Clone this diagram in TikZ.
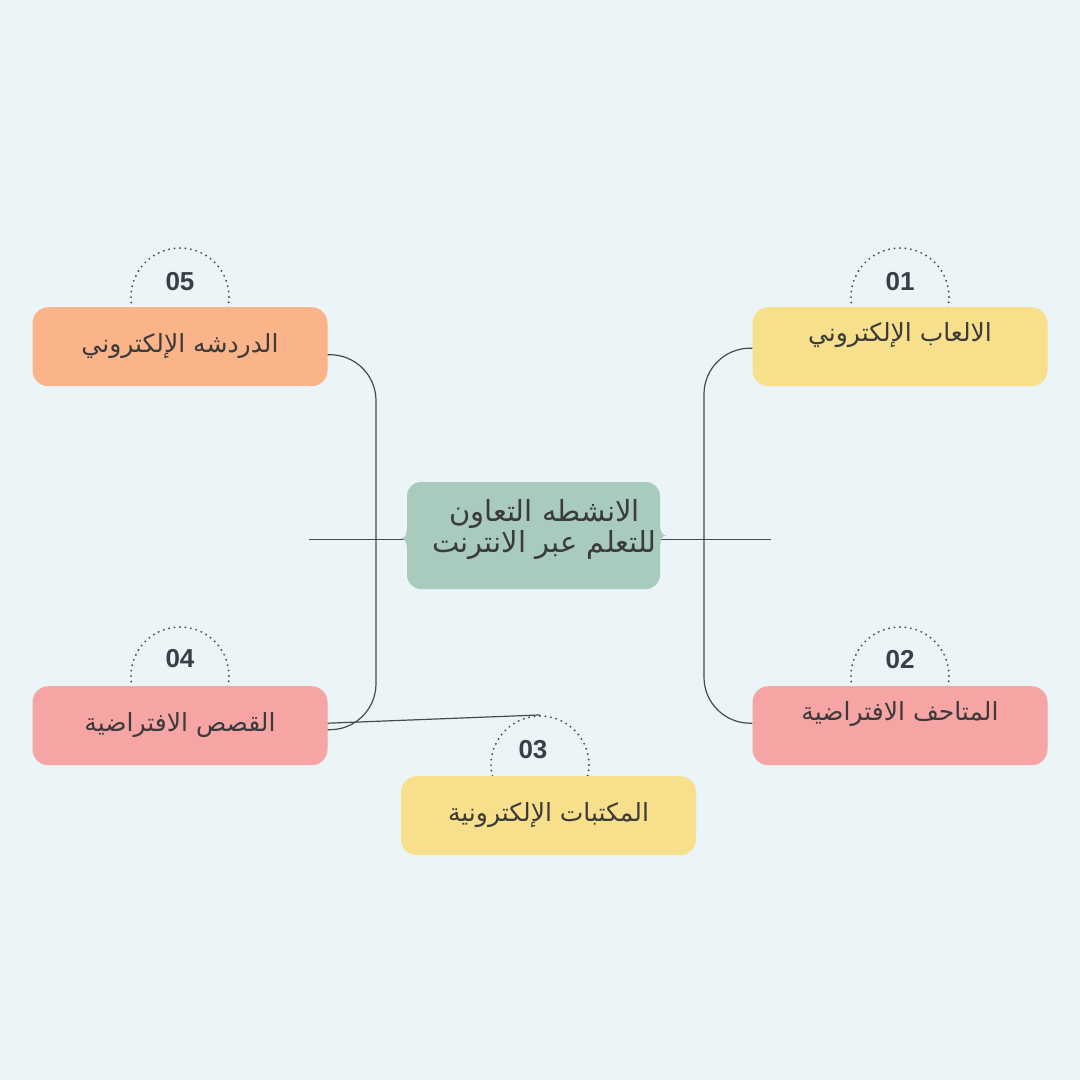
\documentclass[tikz,border=0pt]{standalone}
\usepackage{fontspec}
\setmainfont{DejaVu Sans}
\newfontfamily\arabicfont[Script=Arabic]{DejaVu Sans}
\newfontfamily\numfont{Liberation Sans}
\TeXXeTstate=1
\usepackage{tikz}
\usetikzlibrary{positioning}
\usepackage{color}
\definecolor{Mind-bg}{RGB}{235,244,246}
\definecolor{Mind-1}{RGB}{251,180,138}
\definecolor{Mind-2}{RGB}{247,223,140}
\definecolor{Mind-3}{RGB}{247,164,164}
\definecolor{Mind-4}{RGB}{168,203,189}
\definecolor{Mind-ln}{RGB}{74,74,74}
\definecolor{Mind-txt}{RGB}{59,59,59}
\definecolor{Mind-num}{RGB}{58,63,69}

\begin{document}
\begin{tikzpicture}[x=1pt,y=-1pt]
    \tikzset{ box/.style  ={rounded corners=16pt, minimum width=295pt, minimum height=79pt, text=Mind-txt, font=\arabicfont\fontsize{25}{30}\selectfont, text height=20pt, text depth=8pt} }
    \tikzset{ hibox/.style={box, text depth=30pt} }
    \tikzset{ ctr/.style  ={fill=Mind-4, rounded corners=14pt, minimum width=253pt, minimum height=107pt} }
    \tikzset{ ctrtxt/.style={text=Mind-txt, align=center, font=\arabicfont\fontsize{29}{31}\selectfont, xshift=11pt, yshift=6pt} }
    \tikzset{ ring/.style ={draw=Mind-ln, circle, minimum size=98pt, line width=2.1pt, dash pattern=on 0pt off 5.5pt, line cap=round} }
    \tikzset{ num/.style  ={text=Mind-num, font=\numfont\bfseries\fontsize{26}{28}\selectfont} }
    \tikzset{ lnk/.style  ={draw=Mind-ln, line width=1.2pt} }

    \fill[Mind-bg] (0,0) rectangle (1080,1080);
    \useasboundingbox (0,0) rectangle (1080,1080);

    \node[ring] (c05) at (180,297) {};
    \node[ring] (c01) at (900,297) {};
    \node[ring] (c04) at (180,676) {};
    \node[ring] (c02) at (900,676) {};
    \node[ring] (c03) at (540,765) {};

    \node[num, at=(c05.center), yshift=15pt] (n05) {05};
    \node[num, at=(c01.center), yshift=15pt] (n01) {01};
    \node[num, at=(c04.center), yshift=17pt] (n04) {04};
    \node[num, at=(c02.center), yshift=16pt] (n02) {02};
    \node[num, at=(c03.center), yshift=15pt, xshift=-7pt] (n03) {03};

    \node[box,   fill=Mind-1, anchor=north, at=(c05.center), yshift=-10pt] (b05) {\beginR الدردشه الإلكتروني\endR};
    \node[hibox, fill=Mind-2, anchor=north, at=(c01.center), yshift=-10pt] (b01) {\beginR الالعاب الإلكتروني\endR};
    \node[box,   fill=Mind-3, anchor=north, at=(c04.center), yshift=-10pt] (b04) {\beginR القصص الافتراضية\endR};
    \node[hibox, fill=Mind-3, anchor=north, at=(c02.center), yshift=-10pt] (b02) {\beginR المتاحف الافتراضية\endR};
    \node[box,   fill=Mind-2, anchor=north, at=(c03.center), yshift=-11pt, xshift=8.5pt] (b03) {\beginR المكتبات الإلكترونية\endR};

    \coordinate (lbus) at (376,540);
    \coordinate (rbus) at (704,540);
    \node[ctr, label={[ctrtxt]center:\beginR الانشطه التعاون\endR\\\beginR للتعلم عبر الانترنت\endR}] (ctr) at (533.5,535.5) {};
    \coordinate[left=98pt of ctr.west, yshift=-4pt] (lend);
    \coordinate[right=111pt of ctr.east, yshift=-4pt] (rend);

    \draw[lnk, rounded corners=46pt] ([yshift=-8pt]b05.east) -| (lbus) |- ([yshift=-4pt]b04.east);
    \draw[lnk, rounded corners=46pt] ([yshift=-1.5pt]b01.west) -| (rbus) |- ([yshift=2.5pt]b02.west);
    \draw[lnk] ([yshift=2.5pt]b04.east) -- (c03.north);
    \draw[lnk] (lend) -- ([yshift=-4pt]ctr.west);
    \draw[lnk] ([yshift=-4pt]ctr.east) -- (rend);

    \fill[Mind-4] ([yshift=6pt]ctr.west) to[out=-90,in=0] ([xshift=-6pt,yshift=-3pt]ctr.west) to[out=0,in=90] ([yshift=-12pt]ctr.west) -- cycle;
    \fill[Mind-4] ([yshift=9pt]ctr.east) to[out=-90,in=180] ([xshift=6pt]ctr.east) to[out=180,in=90] ([yshift=-9pt]ctr.east) -- cycle;
\end{tikzpicture}
\end{document}
